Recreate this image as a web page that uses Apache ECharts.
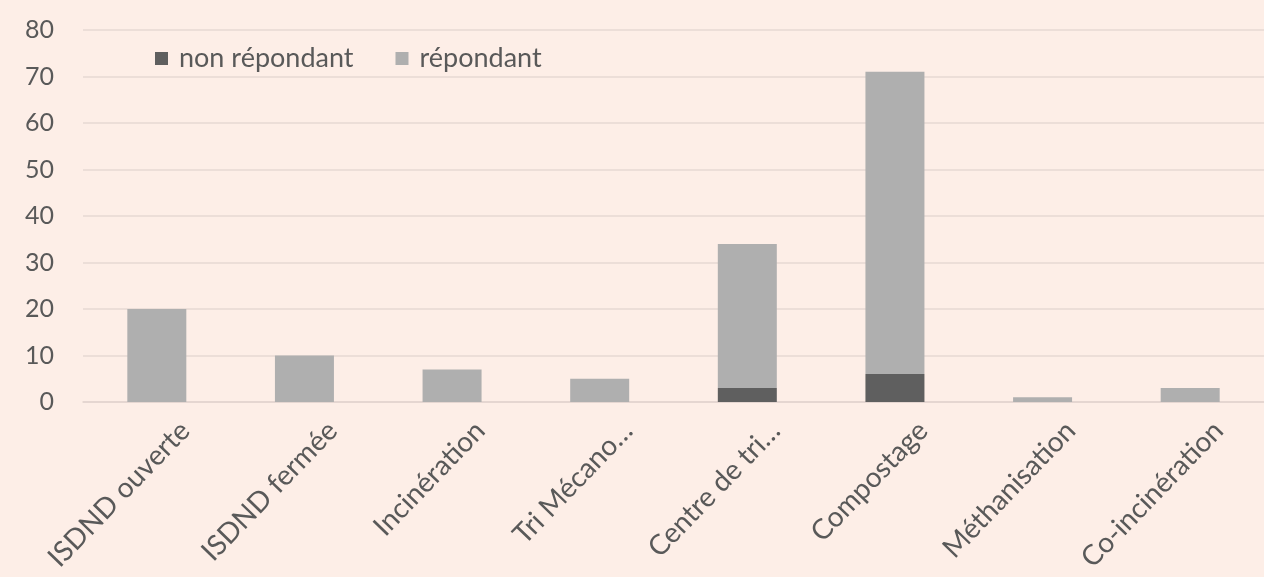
<!DOCTYPE html>
<html>
<head>
<meta charset="utf-8">
<script src="https://cdn.jsdelivr.net/npm/echarts@6/dist/echarts.min.js"></script>
<style>
  html, body { margin: 0; padding: 0; background: #fdeee7; }
  #chart { width: 1264px; height: 577px; }
</style>
</head>
<body>
<div id="chart"></div>
<script>
const categories = ['ISDND ouverte', 'ISDND fermée', 'Incinération', 'Tri Mécano…', 'Centre de tri…', 'Compostage', 'Méthanisation', 'Co-incinération']
const nonRepondant = [0, 0, 0, 0, 3, 6, 0, 0]
const repondant = [20, 10, 7, 5, 31, 65, 1, 3]
const yTicks = { min: 0, max: 80, interval: 10 }

const textColor = '#595959'
const font = 'Lato'

let myChart = echarts.init(document.getElementById('chart'), null, {renderer: 'canvas'})
let option = {
  backgroundColor: '#fdeee7',
  animation: false,
  legend: {
    left: 150,
    top: 40,
    itemWidth: 13,
    itemHeight: 13,
    itemGap: 42,
    icon: 'rect',
    textStyle: {
      color: textColor,
      fontFamily: font,
      fontSize: 27,
      padding: [0, 0, 0, 6]
    },
    data: ['non répondant', 'répondant']
  },
  grid: {
    left: 83,
    top: 30,
    width: 1190,
    bottom: 175,
    containLabel: false
  },
  xAxis: {
    type: 'category',
    data: categories,
    axisTick: {show: false},
    axisLine: {
      show: true,
      lineStyle: {color: '#e2d4ce', width: 1.5}
    },
    axisLabel: {
      interval: 0,
      rotate: 46,
      margin: 33,
      align: 'right',
      verticalAlign: 'top',
      padding: [0, -26, 0, 0],
      color: textColor,
      fontFamily: font,
      fontSize: 28
    }
  },
  yAxis: {
    type: 'value',
    min: yTicks.min,
    max: yTicks.max,
    interval: yTicks.interval,
    axisLine: {show: false},
    axisTick: {show: false},
    axisLabel: {
      margin: 29,
      color: textColor,
      fontFamily: font,
      fontSize: 25
    },
    splitLine: {
      lineStyle: {color: '#e6d9d3', width: 1.5}
    }
  },
  series: [
    {
      name: 'non répondant',
      type: 'bar',
      stack: 'total',
      barWidth: 59,
      itemStyle: {color: '#5f5f5f'},
      data: nonRepondant
    },
    {
      name: 'répondant',
      type: 'bar',
      stack: 'total',
      barWidth: 59,
      itemStyle: {color: '#afafaf'},
      data: repondant
    }
  ]
}
myChart.setOption(option)
</script>
</body>
</html>
